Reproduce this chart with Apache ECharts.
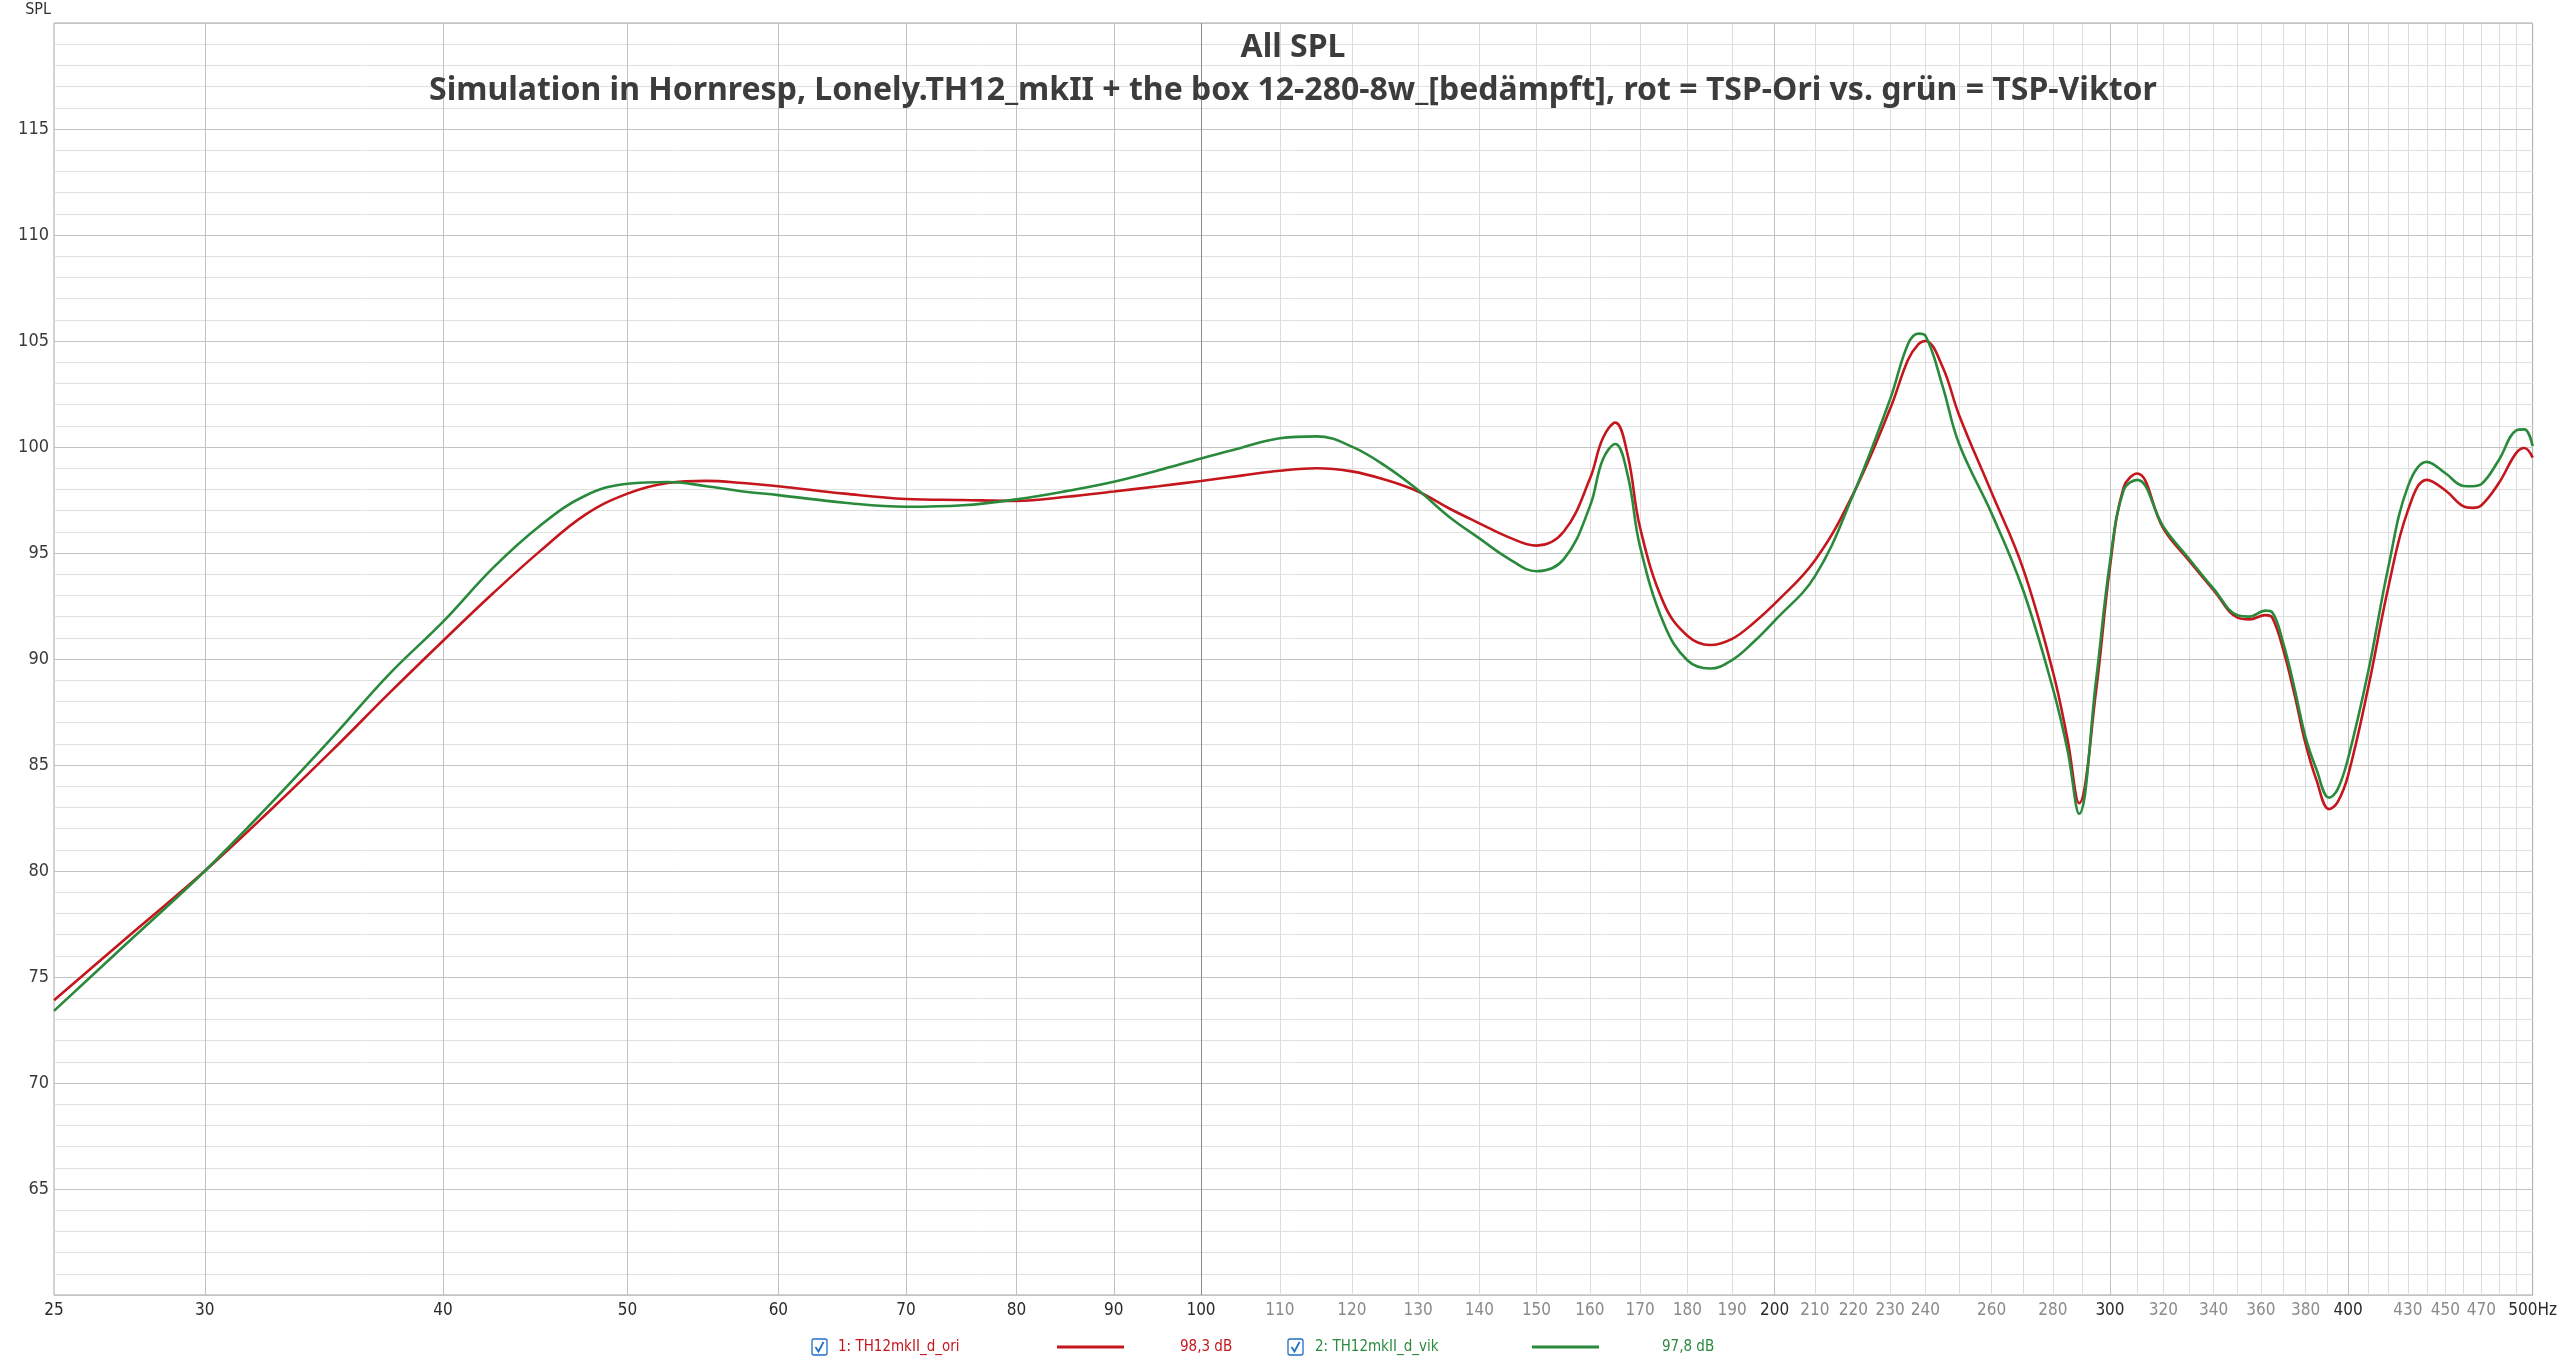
<!DOCTYPE html>
<html lang="de">
<head>
  <meta charset="UTF-8">
  <title>All SPL</title>
  <script src="https://cdn.jsdelivr.net/npm/echarts@6/dist/echarts.min.js"></script>
  <style>
    html, body { margin: 0; padding: 0; background: #fff; }
    #main { width: 2560px; height: 1361px; }
  </style>
</head>
<body>
  <div id="main"></div>
  <script>
    var freqs = [25, 27.5, 30, 32.5, 35, 37.5, 40, 42.5, 45, 47.5, 50, 52.5, 55, 57.5, 60, 65, 70, 75, 80, 85,
      90, 95, 100, 105, 110, 115, 120, 125, 130, 135, 140, 145, 150, 155, 160, 162.5, 165, 167.5, 170, 175,
      180, 185, 190, 195, 200, 210, 220, 230, 235, 238, 240, 245, 250, 260, 270, 280, 285, 289, 295, 300,
      305, 310, 320, 330, 340, 350, 355, 362, 365, 370, 375, 380, 385, 391, 395, 400, 410, 420, 430, 440,
      450, 460, 465, 470, 480, 490, 495, 500];

    var splOri = [73.9, 77.1, 80.0, 82.9, 85.7, 88.4, 90.85, 93.1, 95.1, 96.8, 97.8, 98.3, 98.4, 98.3, 98.15, 97.8, 97.55, 97.5, 97.46, 97.65,
      97.9, 98.15, 98.4, 98.65, 98.88, 99.0, 98.85, 98.45, 97.9, 97.1, 96.4, 95.75, 95.35, 96.0, 98.5, 100.4, 101.15, 99.6, 96.2, 92.6,
      91.1, 90.66, 90.95, 91.7, 92.6, 94.65, 97.8, 101.8, 104.1, 104.85, 105.0, 103.8, 101.5, 97.85, 94.3, 89.4, 86.2, 83.2, 88.5, 94.35,
      98.1, 98.75, 96.15, 94.65, 93.25, 91.95, 91.87, 92.07, 91.95, 90.4, 88.3, 86.0, 84.3, 82.92, 83.25, 84.5, 88.7, 93.4, 97.0, 98.45,
      97.95, 97.2, 97.13, 97.25, 98.3, 99.7, 99.95, 99.5];

    var splVik = [73.4, 76.85, 80.0, 83.2, 86.3, 89.3, 91.75, 94.3, 96.3, 97.7, 98.27, 98.35, 98.15, 97.9, 97.73, 97.37, 97.18, 97.25, 97.53, 97.92,
      98.36, 98.9, 99.46, 99.97, 100.41, 100.5, 100.02, 99.1, 97.97, 96.7, 95.69, 94.74, 94.14, 94.7, 97.2, 99.4, 100.14, 98.65, 95.3, 91.65,
      89.94, 89.55, 89.95, 90.8, 91.8, 93.9, 97.77, 102.26, 104.85, 105.35, 105.25, 102.9, 100.14, 96.87, 93.29, 88.6, 85.7, 82.7, 89.0, 94.58,
      97.97, 98.45, 96.24, 94.74, 93.32, 92.06, 92.0, 92.28, 92.2, 90.7, 88.6, 86.3, 84.8, 83.46, 83.85, 85.3, 89.46, 94.35, 98.13, 99.3,
      98.76, 98.16, 98.15, 98.25, 99.39, 100.77, 100.83, 100.05];

    // Achsenbeschriftung und Gitter
    var labelFreqs = [25, 30, 40, 50, 60, 70, 80, 90, 100, 110, 120, 130, 140, 150, 160, 170, 180, 190, 200,
      210, 220, 230, 240, 260, 280, 300, 320, 340, 360, 380, 400, 430, 450, 470, 500];
    var minorGridFreqs = [110, 120, 130, 140, 150, 160, 170, 180, 190, 210, 220, 230, 240, 250, 260, 270, 280, 290,
      310, 320, 330, 340, 350, 360, 370, 380, 390, 410, 420, 430, 440, 450, 460, 470, 480, 490];
    var majorGridFreqs = [30, 40, 50, 60, 70, 80, 90, 200, 300, 400];
    var decadeGridFreqs = [100];
    var darkLabels = [25, 30, 40, 50, 60, 70, 80, 90, 100, 200, 300, 400, 500];

    var seriesNames = ['1: TH12mkII_d_ori', '2: TH12mkII_d_vik'];
    var seriesLevels = ['98,3 dB', '97,8 dB'];
    var colors = ['#c4161c', '#2a8a3c'];

    var narrow = '"Liberation Sans Narrow", "DejaVu Sans Condensed", "Roboto", sans-serif';
    var titleFont = '"Noto Sans", "Open Sans", sans-serif';

    function lg(list) {
      return list.map(function (f) { return Math.log10(f); });
    }
    function toPoints(vals) {
      return freqs.map(function (f, i) { return [Math.log10(f), vals[i]]; });
    }

    var xMin = Math.log10(25), xMax = Math.log10(500);

    function gridAxis(values, color) {
      return {
        type: 'value', min: xMin, max: xMax, position: 'bottom',
        axisLine: { show: false }, axisLabel: { show: false },
        axisTick: { show: false, customValues: lg(values) },
        splitLine: { show: true, lineStyle: { color: color, width: 1 } }
      };
    }

    var mainAxis = gridAxis(minorGridFreqs, '#dcdcdc');
    mainAxis.z = 0;
    mainAxis.axisLabel = {
      show: true,
      customValues: lg(labelFreqs),
      margin: 7,
      fontFamily: narrow,
      fontSize: 17,
      formatter: function (v) {
        var f = Math.round(Math.pow(10, v));
        var txt = f === 500 ? '500Hz' : String(f);
        return darkLabels.indexOf(f) >= 0 ? '{d|' + txt + '}' : '{l|' + txt + '}';
      },
      rich: {
        d: { color: '#2a2a2a', fontFamily: narrow, fontSize: 17 },
        l: { color: '#8a8a8a', fontFamily: narrow, fontSize: 17 }
      }
    };
    var majorAxis = gridAxis(majorGridFreqs, '#c2c2c2');
    majorAxis.z = 1;
    var decadeAxis = gridAxis(decadeGridFreqs, '#8c8c8c');
    decadeAxis.z = 2;

    var main = document.getElementById('main');
    var chart = echarts.init(main);

    var legendY = 1347;
    var legendGraphic = [];
    var legendPos = [
      { box: 812, name: 838, line: [1057, 1124], level: 1180 },
      { box: 1288, name: 1315, line: [1532, 1599], level: 1662 }
    ];
    legendPos.forEach(function (p, i) {
      legendGraphic.push({
        type: 'rect', shape: { x: p.box, y: legendY - 8, width: 15, height: 16, r: 2 },
        style: { fill: '#fff', stroke: '#1f6fc5', lineWidth: 1.3 }
      });
      legendGraphic.push({
        type: 'polyline', shape: { points: [[p.box + 3.5, legendY], [p.box + 6.5, legendY + 4.5], [p.box + 11.5, legendY - 5]] },
        style: { stroke: '#1f6fc5', lineWidth: 1.8, fill: null }
      });
      legendGraphic.push({
        type: 'text', x: p.name, y: legendY,
        style: { text: seriesNames[i], fill: colors[i], font: '15px ' + narrow, verticalAlign: 'middle' }
      });
      legendGraphic.push({
        type: 'line', shape: { x1: p.line[0], y1: legendY, x2: p.line[1], y2: legendY },
        style: { stroke: colors[i], lineWidth: 3 }
      });
      legendGraphic.push({
        type: 'text', x: p.level, y: legendY,
        style: { text: seriesLevels[i], fill: colors[i], font: '15px ' + narrow, verticalAlign: 'middle' }
      });
    });

    var option = {
      backgroundColor: '#ffffff',
      animation: false,
      title: [
        {
          text: 'All SPL', left: 1293, top: 32, padding: 0, textAlign: 'center',
          textStyle: { fontSize: 32, fontWeight: 'bold', color: '#3c3c3c', fontFamily: titleFont }
        },
        {
          text: 'Simulation in Hornresp, Lonely.TH12_mkII + the box 12-280-8w_[bedämpft], rot = TSP-Ori vs. grün = TSP-Viktor',
          left: 1293, top: 75, padding: 0, textAlign: 'center',
          textStyle: { fontSize: 32, fontWeight: 'bold', color: '#3c3c3c', fontFamily: titleFont }
        }
      ],
      grid: {
        left: 54, right: 27, top: 23, bottom: 66,
        show: true, borderColor: '#a8a8a8', borderWidth: 1, backgroundColor: 'transparent'
      },
      xAxis: [mainAxis, majorAxis, decadeAxis],
      yAxis: [
        {
          type: 'value', min: 60, max: 120, interval: 5, z: 1,
          name: 'SPL', nameLocation: 'end', nameGap: 5,
          nameTextStyle: { align: 'right', color: '#333', fontFamily: narrow, fontSize: 16, padding: [0, 3, 0, 0] },
          axisLine: { show: false }, axisTick: { show: false },
          axisLabel: {
            color: '#3a3a3a', fontFamily: narrow, fontSize: 18, margin: 5,
            formatter: function (v) { return (v === 60 || v === 120) ? '' : String(v); }
          },
          splitLine: { show: true, lineStyle: { color: '#c2c2c2', width: 1 } }
        },
        {
          type: 'value', min: 60, max: 120, interval: 1, z: 0, position: 'left',
          axisLine: { show: false }, axisTick: { show: false }, axisLabel: { show: false },
          splitLine: { show: true, lineStyle: { color: '#e0e0e0', width: 1 } }
        }
      ],
      series: [
        {
          name: seriesNames[0], type: 'line', xAxisIndex: 0, yAxisIndex: 0,
          data: toPoints(splOri), smooth: 0.4, showSymbol: false, z: 3,
          lineStyle: { color: colors[0], width: 2.6 }
        },
        {
          name: seriesNames[1], type: 'line', xAxisIndex: 0, yAxisIndex: 0,
          data: toPoints(splVik), smooth: 0.4, showSymbol: false, z: 4,
          lineStyle: { color: colors[1], width: 2.6 }
        }
      ],
      graphic: legendGraphic
    };

    chart.setOption(option);
  </script>
</body>
</html>
